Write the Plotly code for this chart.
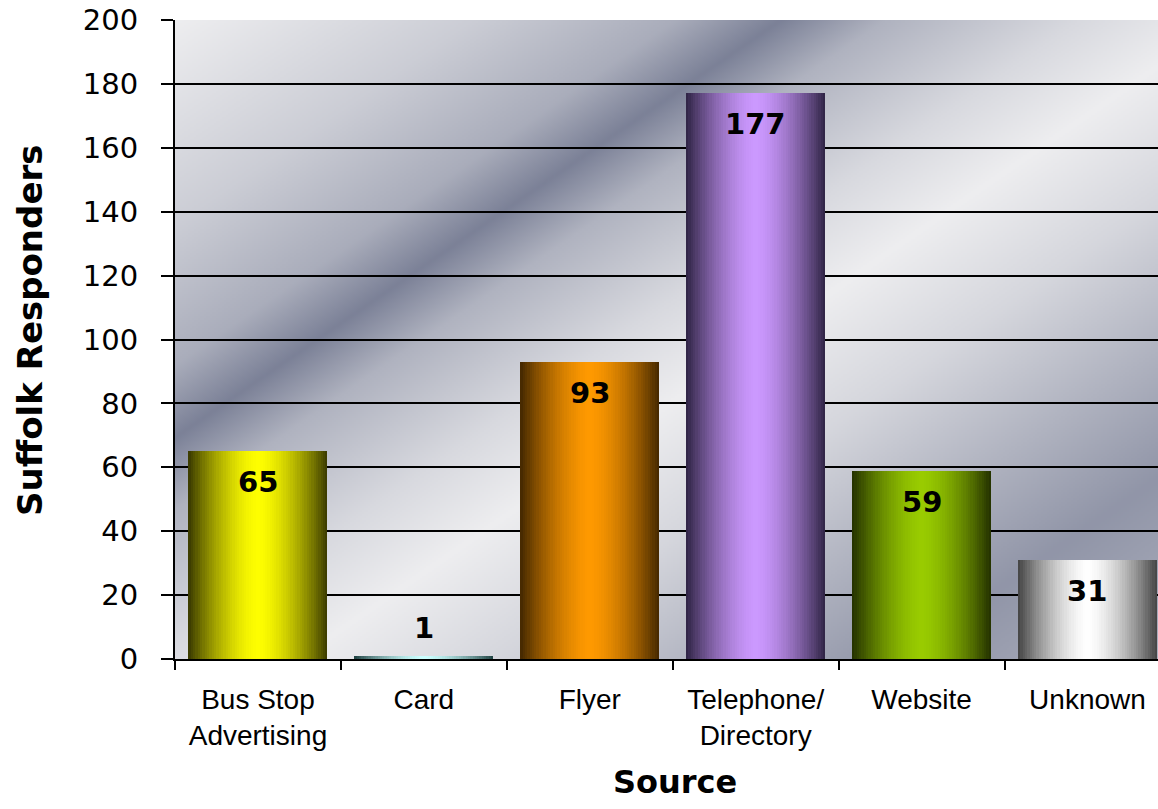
import base64
import struct
import zlib

import numpy as np
import plotly.graph_objects as go

# ---- data -------------------------------------------------------------
categories = ["Bus Stop<br>Advertising", "Card", "Flyer",
              "Telephone/<br>Directory", "Website", "Unknown"]
responders = [65, 1, 93, 177, 59, 31]

# bar shading: bright centre colour and dark edge colour per source
centre_colours = [(255, 255, 0), (204, 255, 255), (255, 153, 0),
                  (204, 153, 255), (153, 204, 0), (255, 255, 255)]
edge_colours = [(62, 62, 0), (35, 70, 70), (72, 42, 0),
                (50, 38, 72), (38, 52, 0), (72, 72, 72)]

y_ticks = list(range(0, 201, 20))

# ---- geometry -----------------------------------------------------------
W, H = 1158, 809
M_L, M_R, M_T, M_B = 175, 0, 20, 150
PLOT_W, PLOT_H = W - M_L - M_R, H - M_T - M_B
CAT_PX = 165.9                      # pixel width of one category slot
X_RANGE = [-0.5, -0.5 + PLOT_W / CAT_PX]
Y_RANGE = [0, 200]
BAR_W = 0.838


# ---- metallic backdrop for the plotting area -------------------------------
def png_uri(rgb):
    h, w, _ = rgb.shape
    raw = b"".join(b"\x00" + rgb[r].tobytes() for r in range(h))

    def chunk(tag, data):
        return (struct.pack(">I", len(data)) + tag + data
                + struct.pack(">I", zlib.crc32(tag + data) & 0xFFFFFFFF))

    png = (b"\x89PNG\r\n\x1a\n"
           + chunk(b"IHDR", struct.pack(">IIBBBBB", w, h, 8, 2, 0, 0, 0))
           + chunk(b"IDAT", zlib.compress(raw, 9))
           + chunk(b"IEND", b""))
    return "data:image/png;base64," + base64.b64encode(png).decode()


def backdrop(scale=0.5):
    w, h = int(PLOT_W * scale), int(PLOT_H * scale)
    xs = np.linspace(0, PLOT_W, w)[None, :]
    ys = np.linspace(0, PLOT_H, h)[:, None]
    s = xs + 1.45 * ys
    stops = [0, 300, 500, 605, 710, 900, 1050, 1250, 1450, 1650, 1800, 1909]
    dark = [0.0, 0.28, 0.55, 0.92, 0.5, 0.18, 0.0, 0.2, 0.48, 0.75, 0.62, 0.52]
    a = np.interp(s, stops, dark)[..., None]
    light = np.array([238, 238, 240], float)
    shade = np.array([114, 120, 144], float)
    img = light * (1 - a) + shade * a
    return np.clip(img, 0, 255).astype(np.uint8)


# ---- figure -----------------------------------------------------------------
fig = go.Figure()

# each bar is built from nested slices, widest/darkest first, so the fill
# brightens from the edges towards the middle like a cylinder
LAYERS = 30
for k in range(LAYERS):
    d = 1 - k / LAYERS
    mix = 1 - d ** 1.6
    cols = []
    for c, e in zip(centre_colours, edge_colours):
        r, g, b = (int(round(e[i] + (c[i] - e[i]) * mix)) for i in range(3))
        cols.append(f"rgb({r},{g},{b})")
    fig.add_trace(go.Bar(
        x=categories, y=responders, width=BAR_W * d,
        marker=dict(color=cols, line=dict(width=0)),
        hoverinfo="skip" if k else "x+y",
        showlegend=False,
    ))

# value labels
px_per_unit = PLOT_H / (Y_RANGE[1] - Y_RANGE[0])
for cat, val in zip(categories, responders):
    inside = val * px_per_unit > 45
    fig.add_annotation(
        x=cat, y=val, text=str(val), showarrow=False,
        yanchor="middle", yshift=-31 if inside else 28,
        font=dict(family="DejaVu Sans", size=29, color="black", weight="bold"),
    )

# axis titles
fig.add_annotation(
    text="Source", xref="paper", yref="paper",
    x=(675 - M_L) / PLOT_W, y=-(782 - (M_T + PLOT_H)) / PLOT_H,
    xanchor="center", yanchor="middle", showarrow=False,
    font=dict(family="DejaVu Sans", size=32, color="black", weight="bold"),
)
fig.add_annotation(
    text="Suffolk Responders", xref="paper", yref="paper", textangle=-90,
    x=(30 - M_L) / PLOT_W, y=((M_T + PLOT_H) - 331) / PLOT_H,
    xanchor="center", yanchor="middle", showarrow=False,
    font=dict(family="DejaVu Sans", size=34, color="black", weight="bold"),
)

fig.add_layout_image(
    source=png_uri(backdrop()), xref="paper", yref="paper",
    x=0, y=1, sizex=1, sizey=1, xanchor="left", yanchor="top",
    sizing="stretch", layer="below",
)

fig.update_layout(
    width=W, height=H,
    margin=dict(l=M_L, r=M_R, t=M_T, b=M_B, pad=0),
    barmode="overlay", bargap=0,
    paper_bgcolor="white", plot_bgcolor="rgba(0,0,0,0)",
    showlegend=False,
)
fig.update_xaxes(
    type="category", range=X_RANGE, tickson="boundaries",
    ticks="outside", ticklen=9, tickwidth=2, tickcolor="black",
    showline=True, linewidth=2, linecolor="black",
    showgrid=False, ticklabelstandoff=14,
    tickfont=dict(family="Liberation Sans", size=28, color="black"),
)
fig.update_yaxes(
    range=Y_RANGE, tickvals=y_ticks, ticks="outside", ticklen=12,
    tickwidth=2, tickcolor="black",
    showline=True, linewidth=2, linecolor="black",
    showgrid=True, gridcolor="black", gridwidth=2, zeroline=False,
    ticklabelstandoff=17,
    tickfont=dict(family="DejaVu Sans", size=29, color="black"),
)

fig.write_html("out.html")
